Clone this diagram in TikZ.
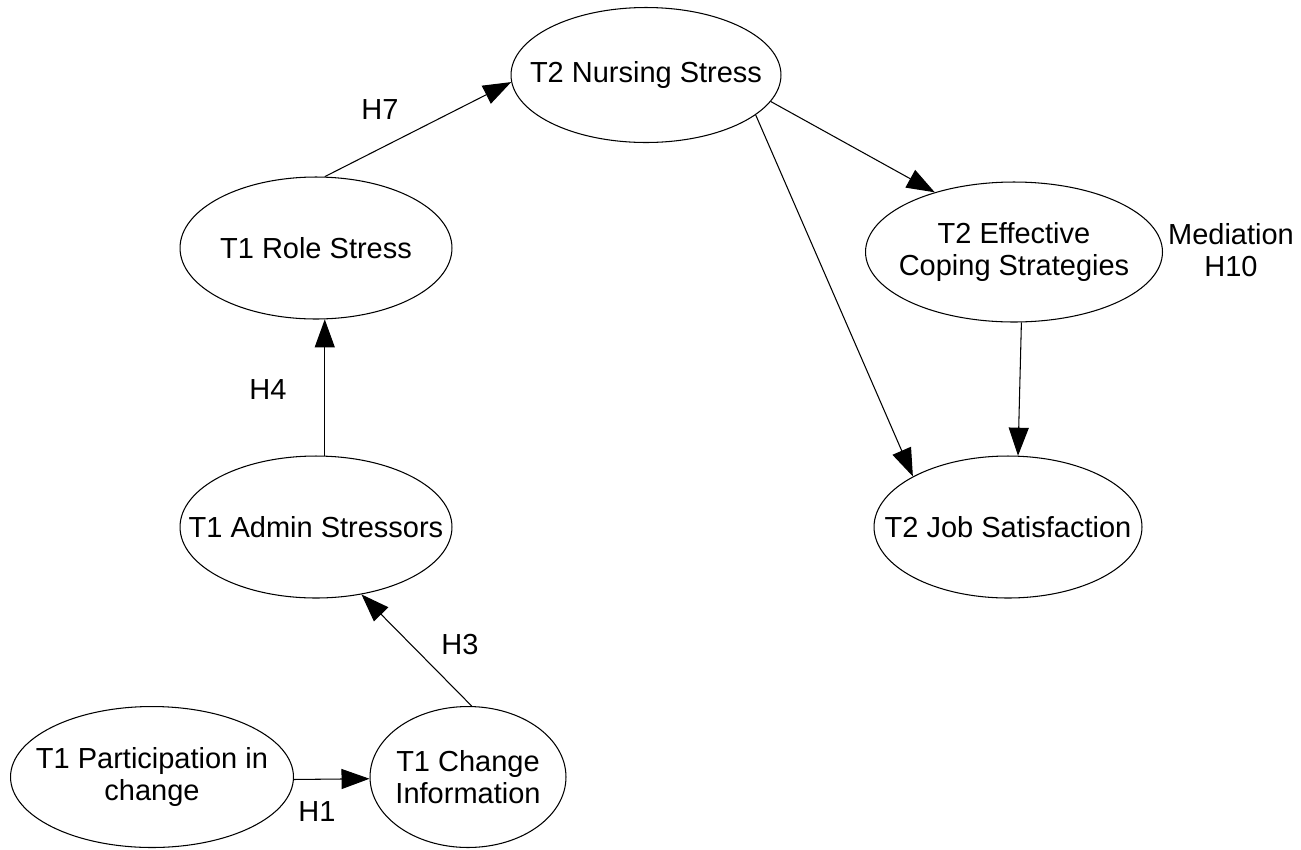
\documentclass[tikz,border=0pt]{standalone}
\usepackage{fontspec}
\setmainfont{Liberation Sans}
\usetikzlibrary{shapes.geometric,arrows.meta}

\tikzset{
	var/.style={draw, ellipse, line width=0.6pt, inner sep=0pt},
	txt/.style={align=center, font=\fontsize{16.5}{18.2}\selectfont},
	arr/.style={-{Triangle[length=0.56cm,width=0.4cm]}, line width=0.6pt},
}

\begin{document}
\begin{tikzpicture}[x=0.02cm, y=-0.02cm]
	\useasboundingbox (0,0) rectangle (1301,849);

	% time 1
	\node[var, minimum width=5.66cm, minimum height=2.82cm,
		label={[txt]center:T1 Participation in\\change}] (part) at (152,777) {};
	\node[var, minimum width=3.92cm, minimum height=2.82cm,
		label={[txt]center:T1 Change\\Information}] (change) at (468,777) {};
	\node[var, minimum width=5.44cm, minimum height=2.84cm,
		label={[txt]center:T1 Admin Stressors}] (admin) at (316,527) {};
	\node[var, minimum width=5.44cm, minimum height=2.84cm,
		label={[txt]center:T1 Role Stress}] (role) at (316,248) {};

	% time 2
	\node[var, minimum width=5.4cm, minimum height=2.7cm,
		label={[txt]center:T2 Nursing Stress}] (nurse) at (646,75) {};
	\node[var, minimum width=5.94cm, minimum height=2.8cm,
		label={[txt]center:T2 Effective\\Coping Strategies}] (coping) at (1014,252) {};
	\node[var, minimum width=5.36cm, minimum height=2.84cm,
		label={[txt]center:T2 Job Satisfaction}] (job) at (1008,527) {};

	% paths
	\draw[arr] (part.-1) -- (change.181);
	\draw[arr] (change.87) -- (admin.-56);
	\draw[arr] (admin.83) -- (role.-83);
	\draw[arr] (role.83) -- (nurse.183);
	\draw[arr] (nurse.-12) -- (coping.143);
	\draw[arr] (nurse.-20) -- (job.152);
	\draw[arr] (coping.-84) -- (job.82);

	\node[txt] (h1) at (317,812) {H1};
	\node[txt] (h3) at (460,645) {H3};
	\node[txt] (h4) at (268,390) {H4};
	\node[txt] (h7) at (380,110) {H7};
	\node[txt] (h10) at (1231,250) {Mediation\\H10};
\end{tikzpicture}
\end{document}
